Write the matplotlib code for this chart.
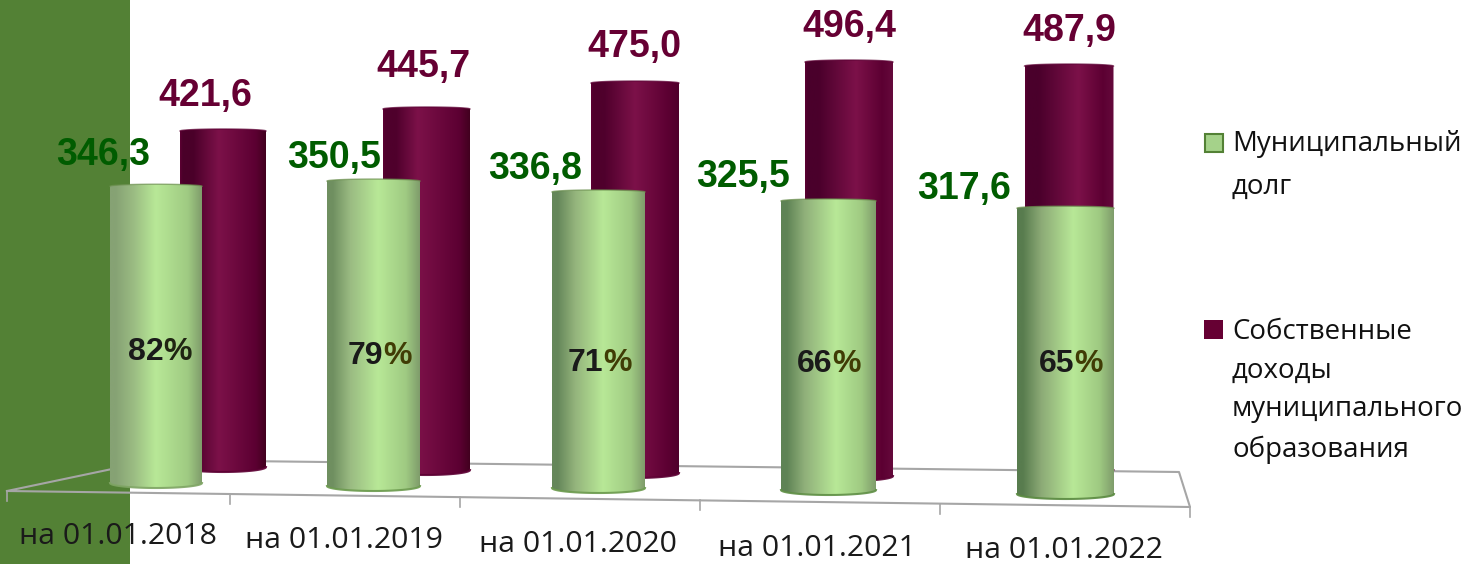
import numpy as np
import matplotlib
matplotlib.use("Agg")
import matplotlib.pyplot as plt
from matplotlib.colors import LinearSegmentedColormap
from matplotlib.patches import Polygon, Rectangle

# dati
categories = ["на 01.01.2018", "на 01.01.2019", "на 01.01.2020", "на 01.01.2021", "на 01.01.2022"]
debt = [346.3, 350.5, 336.8, 325.5, 317.6]
income = [421.6, 445.7, 475.0, 496.4, 487.9]
debt_labels = ["346,3", "350,5", "336,8", "325,5", "317,6"]
income_labels = ["421,6", "445,7", "475,0", "496,4", "487,9"]
share_labels = ["82", "79", "71", "66", "65"]
legend_debt = ["Муниципальный", "долг"]
legend_income = ["Собственные", "доходы", "муниципального", "образования"]

# layout in pixel (finta prospettiva 3D)
front_x = [156, 373.5, 598.5, 828.5, 1065.5]
front_w = [92, 93, 93, 95, 97]
front_base = [483, 486, 488, 490, 494]
front_scale = [0.857, 0.870, 0.879, 0.888, 0.900]
back_x = [223, 426.5, 635, 849, 1069]
back_w = [86, 87, 88, 88, 89]
back_base = [467, 470, 473, 476, 470]
back_scale = [0.797, 0.810, 0.821, 0.834, 0.828]

debt_text_x = [103, 334, 535, 743, 964]
debt_text_y = [155, 158, 169, 177, 189]
income_text_x = [205, 423, 634, 849, 1069]
income_text_y = [96, 67, 47, 27, 31]
share_text_x = [160, 380, 600, 829, 1071]
share_text_y = [352, 356, 363, 364, 364]
pct_colors = ["#1f2412", "#403c05", "#403c05", "#403c05", "#403c05"]
cat_text_x = [118, 344, 578, 817, 1064]
cat_text_y = [537, 541, 545, 548, 550]
tick_x = [7, 230, 460, 700, 940, 1190]

# sfumature per cilindro (la luce si sposta verso destra)
green_left = ["#86a274", "#6f8f60", "#65875a", "#5f8355", "#587c4e"]
green_mid = ["#9abb82", "#9abb82", "#94b47c", "#90b07a", "#8caa76"]
green_light = [0.5, 0.55, 0.55, 0.58, 0.58]
red_left = ["#4a0029", "#4f002c", "#4f002c", "#4a002b", "#4a002b"]
red_right = ["#42001f", "#42001f", "#4f002c", "#650a3c", "#650a3c"]
red_light = [0.45, 0.4, 0.5, 0.58, 0.6]
bottom_rims = ["#7fa564", "#6b9a4d", "#6b9a4d", "#5f8f45", "#5a8a40"]

grad = np.linspace(0, 1, 256).reshape(1, -1)


def green_map(i):
    c = green_light[i]
    return LinearSegmentedColormap.from_list(
        "g", [(0, green_left[i]), (0.06, green_left[i]), (0.25, green_mid[i]), (c, "#b8e897"), (0.85, "#9fca82"), (1, "#7f9c6b")])


def red_map(i):
    c = red_light[i]
    return LinearSegmentedColormap.from_list(
        "r", [(0, "#5c0033"), (0.03, red_left[i]), (0.15, red_left[i]), (c, "#7c1149"), (0.88, "#5c0032"), (1, red_right[i])])


def cylinder(ax, cx, w, base, top, cmap, rim, bottom_rim, z):
    x0, x1 = cx - w / 2, cx + w / 2
    t = np.linspace(0, np.pi, 60)
    xs = cx + w / 2 * np.cos(t)
    top_arc = top - 2 * np.sin(t)
    bot_arc = base + 5 * np.sin(t)
    pts = np.vstack([np.c_[xs, top_arc], np.c_[xs[::-1], bot_arc[::-1]]])
    shape = Polygon(pts, closed=True, fc="none", ec="none", zorder=z)
    ax.add_patch(shape)
    im = ax.imshow(grad, cmap=cmap, extent=(x0, x1, base + 6, top - 3), aspect="auto", zorder=z)
    im.set_clip_path(shape)
    # bordo superiore e inferiore
    ax.plot(xs, top_arc, color=rim, lw=1.0, alpha=0.7, zorder=z + 0.1)
    ax.plot(xs, bot_arc, color=bottom_rim, lw=1.5, alpha=0.9, zorder=z + 0.1)


fig = plt.figure(figsize=(14.66, 5.64), dpi=100)
ax = fig.add_axes([0, 0, 1, 1])
ax.set_axis_off()

ax.add_patch(Rectangle((0, 0), 130, 564, fc="#538135", ec="none", zorder=0))

# pavimento
grey = "#a6a6a6"
ax.plot([7, 155, 1179, 1190, 7], [491, 460, 472, 507, 491], color=grey, lw=1.5, zorder=1)
for tx in tick_x:
    ty = 491 + (tx - 7) * 16 / 1183
    ax.plot([tx, tx], [ty, ty + 10], color=grey, lw=1.2, zorder=1)

for i in range(len(categories)):
    cylinder(ax, back_x[i], back_w[i], back_base[i], back_base[i] - income[i] * back_scale[i],
             red_map(i), "#5c0033", "#5c0033", 2 + i * 0.01)
for i in range(len(categories)):
    cylinder(ax, front_x[i], front_w[i], front_base[i], front_base[i] - debt[i] * front_scale[i],
             green_map(i), "#6b8f4e", bottom_rims[i], 3 + i * 0.01)

for i in range(len(categories)):
    ax.text(debt_text_x[i], debt_text_y[i], debt_labels[i], color="#005c00", fontsize=27, fontweight="bold",
            family="Liberation Sans", ha="center", va="center", zorder=5)
    ax.text(income_text_x[i], income_text_y[i], income_labels[i], color="#660033", fontsize=27, fontweight="bold",
            family="Liberation Sans", ha="center", va="center", zorder=5)
    # cifre e % hanno colori diversi
    digits = ax.text(share_text_x[i] + 3.5, share_text_y[i], share_labels[i], color="#1a1a1a", fontsize=23,
                     fontweight="bold", family="Liberation Sans", ha="right", va="center", zorder=5)
    ax.annotate("%", xy=(1, 0), xycoords=digits, color=pct_colors[i], fontsize=23, fontweight="bold",
                family="Liberation Sans", ha="left", va="bottom", zorder=5)
    ax.text(cat_text_x[i], cat_text_y[i], categories[i], color="#1a1a1a", fontsize=21.8,
            family="Open Sans", ha="center", va="center", zorder=5)

# legenda
ax.add_patch(Rectangle((1205, 134), 18, 18, fc="#a5d28a", ec="#538135", lw=1.5, zorder=5))
ax.add_patch(Rectangle((1204, 320), 19, 19, fc="#660033", ec="none", zorder=5))
for txt, ly in zip(legend_debt, [144, 187]):
    ax.text(1232, ly, txt, color="#111111", fontsize=19.9, family="Open Sans", ha="left", va="center", zorder=5)
for txt, ly in zip(legend_income, [332, 371, 409, 450]):
    ax.text(1232, ly, txt, color="#111111", fontsize=19.9, family="Open Sans", ha="left", va="center", zorder=5)

ax.set_xlim(0, 1466)
ax.set_ylim(564, 0)

fig.savefig("out.png", dpi=100)
